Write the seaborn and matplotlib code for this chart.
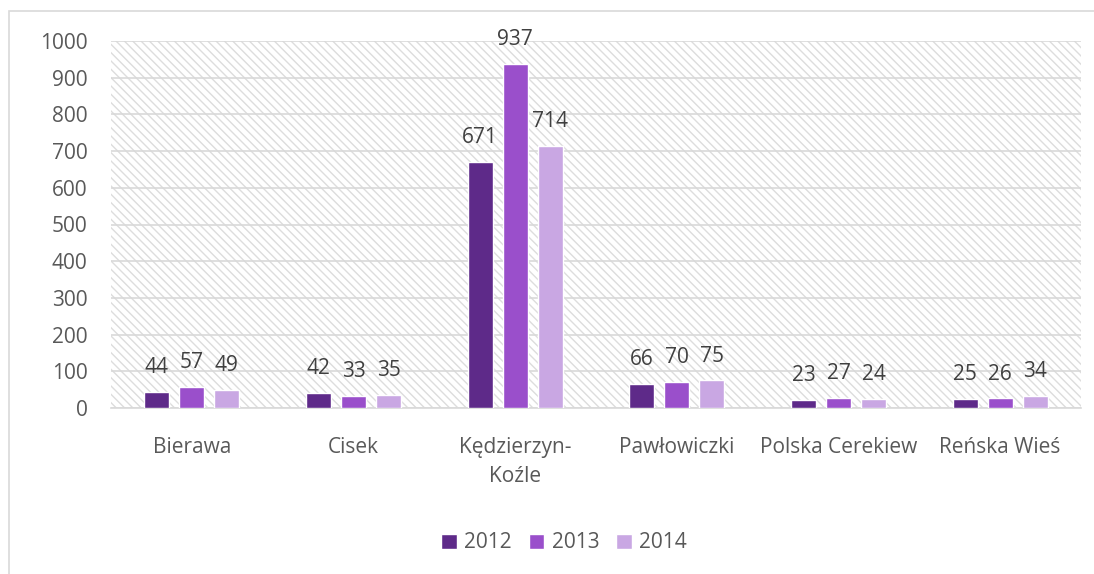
import matplotlib
matplotlib.use("Agg")
import matplotlib.pyplot as plt
import seaborn as sns
import pandas as pd
from matplotlib.patches import Rectangle

categories = ["Bierawa", "Cisek", "Kędzierzyn-\nKoźle", "Pawłowiczki", "Polska Cerekiew", "Reńska Wieś"]
years = ["2012", "2013", "2014"]
v2012 = [44, 42, 671, 66, 23, 25]
v2013 = [57, 33, 937, 70, 27, 26]
v2014 = [49, 35, 714, 75, 24, 34]
colors = ["#5E2A89", "#9A4FCB", "#C9A7E3"]

rows = []
for y, vals in zip(years, [v2012, v2013, v2014]):
    for c, v in zip(categories, vals):
        rows.append({"cat": c, "year": y, "val": v})
df = pd.DataFrame(rows)

sns.set_theme(style="white")
plt.rcParams['font.family'] = ['Open Sans', 'DejaVu Sans']
plt.rcParams['hatch.linewidth'] = 1.0
plt.rcParams['hatch.color'] = '#DDDDDD'

fig = plt.figure(figsize=(10.94, 5.74), dpi=100)
ax = fig.add_axes([111/1094, 1-408/574, (1081-111)/1094, (408-41)/574])

# outer chart border
fig.patches.append(Rectangle((9/1094, -0.1), 1.2, 1 - 11/574 + 0.1, transform=fig.transFigure,
                             fill=False, edgecolor='#D9D9D9', linewidth=1.2))

# hatched background
ax.add_patch(Rectangle((0, 0), 1, 1, transform=ax.transAxes, facecolor='white',
                       edgecolor='#DDDDDD', hatch='\\\\\\\\', linewidth=0, zorder=0))

sns.barplot(data=df, x="cat", y="val", hue="year", palette=colors, width=0.65, gap=0.28,
            ax=ax, saturation=1, zorder=3)

ax.set_ylim(0, 1000)
ax.set_yticks(range(0, 1001, 100))
ax.yaxis.grid(True, color='#D9D9D9', linewidth=1.2, zorder=1)
ax.set_axisbelow(True)
for s in ['top', 'right', 'left']:
    ax.spines[s].set_visible(False)
ax.spines['bottom'].set_color('#D9D9D9')
ax.spines['bottom'].set_linewidth(1.2)
ax.set_xlabel("")
ax.set_ylabel("")
ax.tick_params(axis='both', length=0, labelsize=15, colors='#595959')
ax.tick_params(axis='x', pad=21)
ax.tick_params(axis='y', pad=17)
for lbl in ax.get_xticklabels():
    lbl.set_linespacing(1.5)

for cont in ax.containers:
    ax.bar_label(cont, fmt='%d', padding=10, fontsize=15, color='#404040')

leg = fig.legend(loc='center', bbox_to_anchor=(564/1094, 1-543/574), ncol=3, frameon=False,
                 fontsize=15, handlelength=0.75, handleheight=0.75, handletextpad=0.35,
                 columnspacing=0.8, labelcolor='#595959')
ax.get_legend().remove()

fig.savefig("out.png", dpi=100)
